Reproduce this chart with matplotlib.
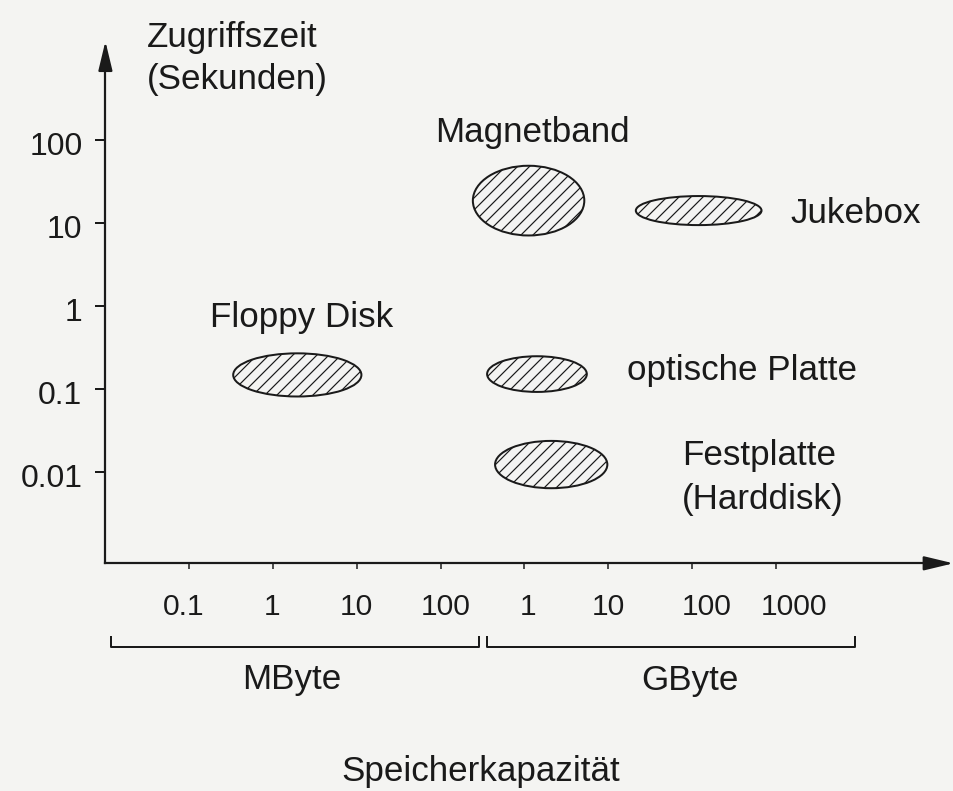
import matplotlib
matplotlib.use("Agg")
import matplotlib.pyplot as plt
from matplotlib.patches import Ellipse
from matplotlib.transforms import ScaledTranslation

# ========================
# DATA
# x = log10(capacity in MByte), y = log10(access time in s)
# ========================

media = ["Magnetband", "Jukebox", "Floppy Disk", "optische Platte", "Festplatte\n(Harddisk)"]
center_size = [3.05, 5.08, 0.29, 3.15, 3.32]
center_time = [1.27, 1.15, -0.83, -0.82, -1.91]
width_size = [1.33, 1.50, 1.53, 1.19, 1.34]
height_time = [0.84, 0.35, 0.52, 0.43, 0.57]

x_ticks = [-1, 0, 1, 2, 3, 4, 5, 6]
x_labels = ["0.1", "1", "10", "100", "1", "10", "100", "1000"]
y_ticks = [2, 1, 0, -1, -2]
y_labels = ["100", "10", "1", "0.1", "0.01"]

# label anchors (left, baseline) in axis units
label_x = [1.93, 6.17, -0.75, 4.22, 4.88]
label_y = [1.98, 1.00, -0.25, -0.89, -1.92]

# ========================
# FIGURE
# ========================

plt.rcParams['font.family'] = ['Liberation Sans', 'DejaVu Sans']
plt.rcParams['hatch.linewidth'] = 1.2
plt.rcParams['hatch.color'] = '#1a1a1a'

ink = '#1a1a1a'
bg = '#f4f4f2'

fig = plt.figure(figsize=(953 / 72, 791 / 72), dpi=72)
fig.patch.set_facecolor(bg)
ax = fig.add_axes([0, 0, 1, 1])
ax.set_facecolor(bg)
ax.set_xlim(-3.258, 8.115)
ax.set_ylim(-5.843, 3.687)

x0 = -2.0    # y-axis position
y0 = -3.10   # x-axis position

for s in ['top', 'right']:
    ax.spines[s].set_visible(False)
ax.spines['left'].set_position(('data', x0))
ax.spines['left'].set_bounds(y0, 3.0)
ax.spines['bottom'].set_position(('data', y0))
ax.spines['bottom'].set_bounds(x0, 7.9)
for s in ['left', 'bottom']:
    ax.spines[s].set_linewidth(2.2)
    ax.spines[s].set_color(ink)

# arrow heads
arrow = dict(arrowstyle='-|>,head_length=1.25,head_width=0.3', lw=2.2,
             color=ink, shrinkA=0, shrinkB=0, mutation_scale=20)
ax.annotate('', xy=(x0, 3.19), xytext=(x0, 2.9), arrowprops=arrow)
ax.annotate('', xy=(8.12, y0), xytext=(7.8, y0), arrowprops=arrow)

ax.set_yticks(y_ticks)
ax.set_yticklabels(y_labels)
ax.tick_params(axis='y', direction='out', length=10, width=2, pad=13,
               labelsize=32, colors=ink)
for lbl in ax.get_yticklabels():
    lbl.set_transform(lbl.get_transform() + ScaledTranslation(0, -3 / 72, fig.dpi_scale_trans))

ax.set_xticks(x_ticks)
ax.set_xticklabels(x_labels)
ax.tick_params(axis='x', direction='out', length=6, width=1.5, pad=24,
               labelsize=30, colors=ink)
shifts = [-6, -1, 0, 5, 4, 0, 15, 18]
for lbl, dx in zip(ax.get_xticklabels(), shifts):
    lbl.set_transform(lbl.get_transform() + ScaledTranslation(dx / 72, 0, fig.dpi_scale_trans))

# ========================
# ELLIPSES
# ========================

for cx, cy, w, h in zip(center_size, center_time, width_size, height_time):
    ax.add_patch(Ellipse((cx, cy), w, h, facecolor='none', edgecolor=ink,
                         lw=2, hatch='//'))

for name, lx, ly in zip(media, label_x, label_y):
    for i, line in enumerate(name.split('\n')):
        ax.text(lx, ly - i * 0.52, line, fontsize=35, color=ink,
                ha='left', va='baseline')

# ========================
# AXIS TEXTS
# ========================

ax.text(-1.50, 3.12, "Zugriffszeit", fontsize=35, color=ink, va='baseline')
ax.text(-1.50, 2.61, "(Sekunden)", fontsize=35, color=ink, va='baseline')

# capacity brackets
bot, top = -4.108, -3.988
ax.plot([-1.933, -1.933, 2.458, 2.458], [top, bot, bot, top], color=ink, lw=2)
ax.plot([2.554, 2.554, 6.945, 6.945], [top, bot, bot, top], color=ink, lw=2)

ax.text(-0.37, -4.61, "MByte", fontsize=35, color=ink, va='baseline')
ax.text(4.40, -4.63, "GByte", fontsize=35, color=ink, va='baseline')
ax.text(0.82, -5.72, "Speicherkapazität", fontsize=35, color=ink, va='baseline')

fig.savefig("out.png", dpi=72, facecolor=bg)
